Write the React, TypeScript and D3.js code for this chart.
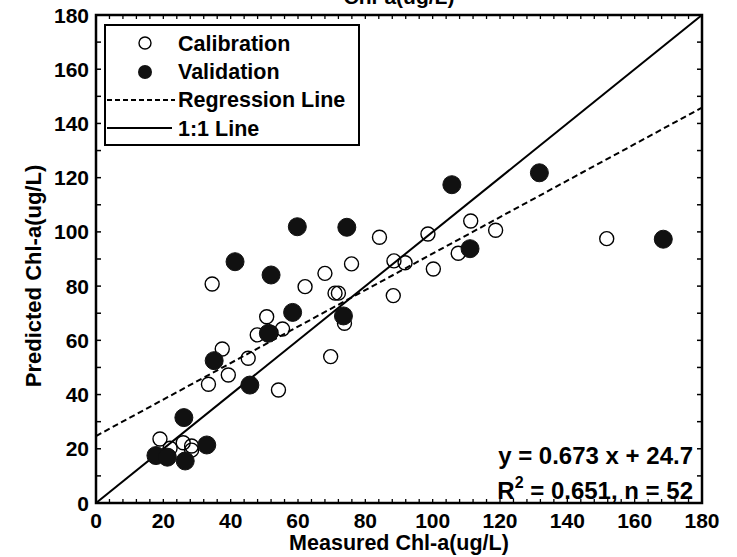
import React from "react";
import * as d3 from "d3";

const calX = [84.2, 75.9, 68.0, 34.5, 62.1, 71.0, 72.0, 73.8, 50.7, 55.4, 47.9, 37.5, 111.3, 98.6, 118.7, 151.7, 107.6, 88.5, 91.8, 100.2, 88.3, 45.2, 39.3, 33.4, 54.2, 69.7, 19.0, 22.0, 25.9, 28.4, 28.4, 21.5, 26.3, 52.0];
const calY = [98.0, 88.2, 84.7, 80.8, 79.8, 77.4, 77.4, 66.3, 68.7, 64.2, 62.0, 56.8, 104.0, 99.2, 100.6, 97.5, 92.1, 89.3, 88.6, 86.3, 76.5, 53.4, 47.2, 43.8, 41.7, 54.0, 23.6, 20.2, 22.2, 21.0, 19.5, 17.4, 15.9, 62.8];
const valX = [59.8, 74.5, 41.3, 52.0, 58.4, 73.5, 51.2, 105.7, 131.7, 168.5, 111.1, 35.1, 45.7, 26.1, 32.9, 17.8, 21.2, 26.5];
const valY = [101.9, 101.7, 89.0, 84.1, 70.3, 69.0, 62.6, 117.4, 121.8, 97.3, 93.8, 52.5, 43.5, 31.5, 21.4, 17.5, 16.9, 15.5];
const majorTicks = [0, 20, 40, 60, 80, 100, 120, 140, 160, 180];
const slope = 0.673;
const intercept = 24.7;
const legendLabels = ["Calibration", "Validation", "Regression Line", "1:1 Line"];

const W = 737, H = 557;
const L = 96, R = 702, T = 15, B = 503;
const FONT = "'Liberation Sans', Arial, sans-serif";

export default function App() {
  const x = d3.scaleLinear().domain([0, 180]).range([L, R]);
  const y = d3.scaleLinear().domain([0, 180]).range([B, T]);
  const xMinor = d3.range(0, 181, 4);
  const yMinor = d3.range(0, 181, 10);
  const line = d3.line<[number, number]>().x(d => x(d[0])).y(d => y(d[1]));
  const reg: [number, number][] = [[0, intercept], [180, intercept + slope * 180]];
  const one: [number, number][] = [[0, 0], [180, 180]];

  return (
    <svg width={W} height={H} style={{ position: "absolute", left: 0, top: 0, background: "#fff" }} fontFamily={FONT} fontWeight="bold">
      <rect x={0} y={0} width={W} height={H} fill="#fff" />
      <text x={(L + R) / 2} y={4} textAnchor="middle" fontSize={21}>Chl-a(ug/L)</text>
      <defs>
        <clipPath id="clip"><rect x={L} y={T} width={R - L} height={B - T} /></clipPath>
      </defs>
      <g clipPath="url(#clip)">
        <path d={line(reg) || ""} stroke="#000" strokeWidth={2} strokeDasharray="6,3.5" fill="none" />
        <path d={line(one) || ""} stroke="#000" strokeWidth={2} fill="none" />
      </g>
      {calX.map((v, i) => (
        <circle key={"c" + i} cx={x(v)} cy={y(calY[i])} r={7} fill="none" stroke="#000" strokeWidth={1.4} />
      ))}
      {valX.map((v, i) => (
        <circle key={"v" + i} cx={x(v)} cy={y(valY[i])} r={9} fill="#111" stroke="#111" strokeWidth={1} />
      ))}
      {xMinor.map(t => (
        <g key={"xm" + t}>
          <line x1={x(t)} x2={x(t)} y1={B} y2={B - 4} stroke="#000" strokeWidth={1.3} />
          <line x1={x(t)} x2={x(t)} y1={T} y2={T + 4} stroke="#000" strokeWidth={1.3} />
        </g>
      ))}
      {yMinor.map(t => (
        <g key={"ym" + t}>
          <line x1={L} x2={L + 5} y1={y(t)} y2={y(t)} stroke="#000" strokeWidth={1.5} />
          <line x1={R} x2={R - 5} y1={y(t)} y2={y(t)} stroke="#000" strokeWidth={1.5} />
        </g>
      ))}
      <rect x={L} y={T} width={R - L} height={B - T} fill="none" stroke="#000" strokeWidth={2.5} />
      {majorTicks.map(t => (
        <text key={"xt" + t} x={x(t)} y={B + 25} textAnchor="middle" fontSize={21}>{t}</text>
      ))}
      {majorTicks.map(t => (
        <text key={"yt" + t} x={L - 7} y={y(t)} dy="0.36em" textAnchor="end" fontSize={21}>{t}</text>
      ))}
      <text x={(L + R) / 2} y={B + 47} textAnchor="middle" fontSize={21.5}>Measured Chl-a(ug/L)</text>
      <text transform={`translate(41,${(T + B) / 2 + 17}) rotate(-90)`} textAnchor="middle" fontSize={22}>Predicted Chl-a(ug/L)</text>
      <g>
        <rect x={105} y={25} width={254} height={120} fill="#fff" stroke="#000" strokeWidth={2} />
        <circle cx={145} cy={43} r={6} fill="none" stroke="#000" strokeWidth={1.4} />
        <circle cx={145} cy={72} r={7} fill="#111" />
        <line x1={107} x2={175} y1={100} y2={100} stroke="#000" strokeWidth={2} strokeDasharray="5,3" />
        <line x1={107} x2={172} y1={128} y2={128} stroke="#000" strokeWidth={2} />
        {legendLabels.map((s, i) => (
          <text key={s} x={178} y={43 + i * 28.3} dy="0.36em" fontSize={21.5}>{s}</text>
        ))}
      </g>
      <text x={693} y={464} textAnchor="end" fontSize={24}>y = 0.673 x + 24.7</text>
      <text x={693} y={499} textAnchor="end" fontSize={24}>
        R<tspan dy={-11} fontSize={16}>2</tspan><tspan dy={11}> = 0.651, n = 52</tspan>
      </text>
    </svg>
  );
}
